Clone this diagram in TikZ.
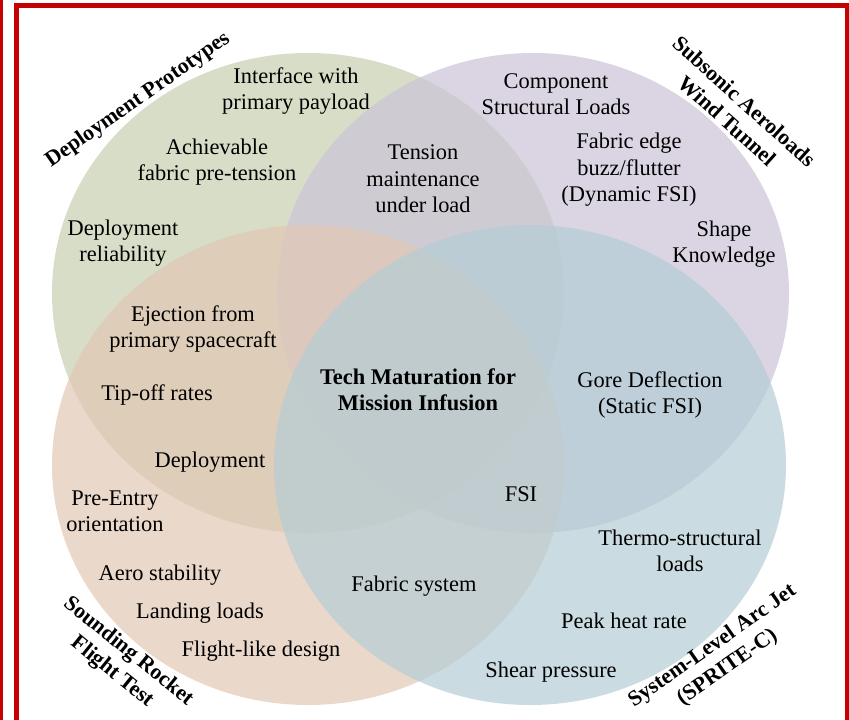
\documentclass[tikz,border=0pt]{standalone}
\usepackage{fontspec}
\setmainfont{Liberation Serif}
\definecolor{frameRed}{RGB}{196,0,0}
\definecolor{sageFill}{RGB}{199,207,176}
\definecolor{lilacFill}{RGB}{205,196,216}
\definecolor{peachFill}{RGB}{226,200,180}
\definecolor{mistFill}{RGB}{180,205,213}
\begin{document}
\begin{tikzpicture}[x=1bp,y=-1bp,
  lbl/.style={font=\fontsize{22.5}{26.5}\selectfont, align=center, inner sep=0pt},
  cat/.style={font=\fontsize{22}{26}\selectfont\bfseries, align=center, inner sep=0pt},
  bubble/.style={fill opacity=0.7}]
\useasboundingbox (0,0) rectangle (849,720);
\fill[white] (0,0) rectangle (849,720);

% four overlapping test-campaign ellipses
\fill[bubble, fill=sageFill]  (308,293) ellipse [x radius=256, y radius=240];
\fill[bubble, fill=lilacFill] (533,293) ellipse [x radius=256, y radius=240];
\fill[bubble, fill=peachFill] (308,465) ellipse [x radius=256, y radius=240];
\fill[bubble, fill=mistFill]  (530,465) ellipse [x radius=256, y radius=240];

% frame
\fill[frameRed] (0,0) rectangle (3,720);
\draw[frameRed, line width=5bp, line join=miter] (16.5,726) -- (16.5,6) -- (847,6) -- (847,726);

% campaign names
\node[cat, rotate=35]  (depproto) at (138,100) {Deployment Prototypes};
\node[cat, rotate=-42] (subsonic) at (736,111) {Subsonic Aeroloads\\Wind Tunnel};
\node[cat, rotate=-39] (sounding) at (120,662) {Sounding Rocket\\Flight Test};
\node[cat, rotate=35]  (arcjet)   at (720,657) {System-Level Arc Jet\\(SPRITE-C)};

% items
\node[lbl] (iface)    at (296,91)  {Interface with\\primary payload};
\node[lbl] (pretens)  at (217,162) {Achievable\\fabric pre-tension};
\node[lbl] (reliab)   at (123,243) {Deployment\\reliability};
\node[lbl] (eject)    at (193,329) {Ejection from\\primary spacecraft};
\node[lbl] (tipoff)   at (157,395) {Tip-off rates};
\node[lbl] (deploy)   at (210,462) {Deployment};
\node[lbl] (preentry) at (115,511) {Pre-Entry\\orientation};
\node[lbl] (aerostab) at (160,575) {Aero stability};
\node[lbl] (landing)  at (200,613) {Landing loads};
\node[lbl] (flight)   at (261,651) {Flight-like design};
\node[lbl] (fabsys)   at (414,586) {Fabric system};
\node[lbl] (tension)  at (423,179) {Tension\\maintenance\\under load};
\node[lbl] (compload) at (556,94)  {Component\\Structural Loads};
\node[lbl] (buzz)     at (629,170) {Fabric edge\\buzz/flutter\\(Dynamic FSI)};
\node[lbl] (shape)    at (724,244) {Shape\\Knowledge};
\node[lbl, font=\fontsize{22.5}{26.5}\selectfont\bfseries] (core) at (418,390) {Tech Maturation for\\Mission Infusion};
\node[lbl] (gore)     at (650,395) {Gore Deflection\\(Static FSI)};
\node[lbl] (fsi)      at (521,494) {FSI};
\node[lbl] (thermo)   at (680,551) {Thermo-structural\\loads};
\node[lbl] (peak)     at (624,621) {Peak heat rate};
\node[lbl] (shear)    at (551,672) {Shear pressure};
\end{tikzpicture}
\end{document}
